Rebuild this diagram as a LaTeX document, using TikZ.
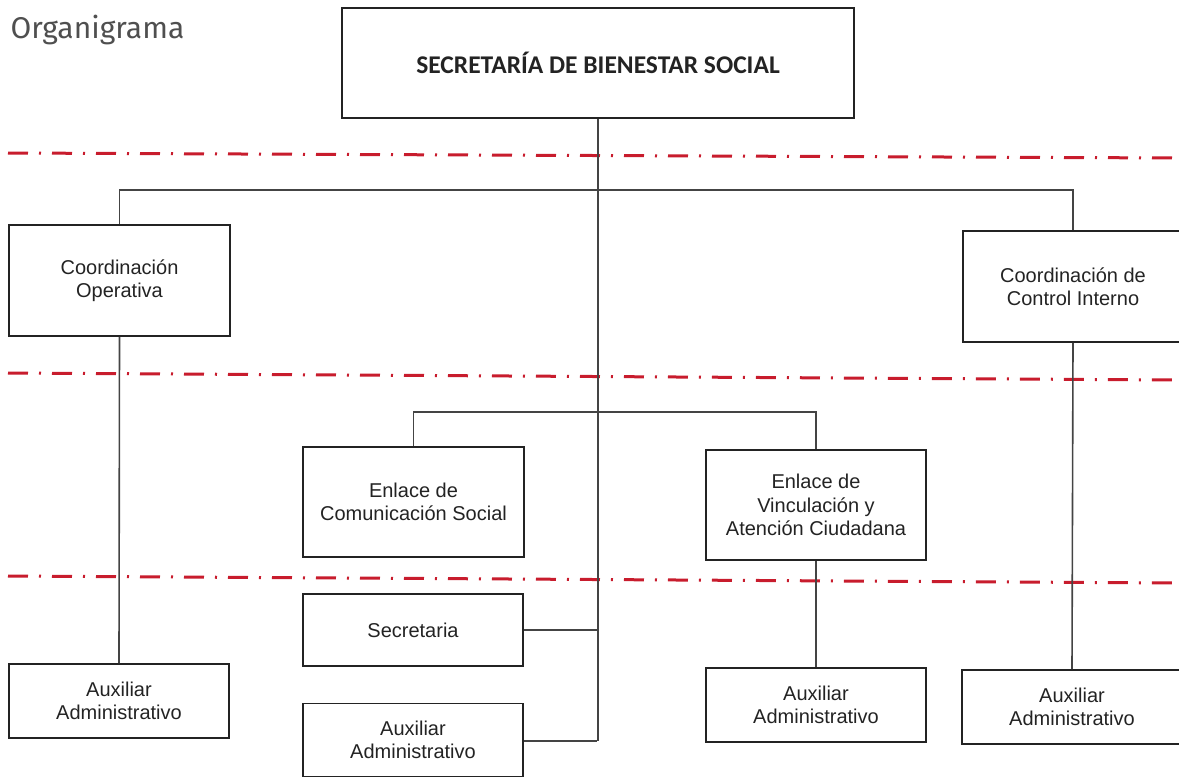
\documentclass[tikz,border=0pt]{standalone}
\usepackage{fontspec}
\setmainfont{Liberation Sans}
\newfontfamily\headfont{Carlito}
\newfontfamily\titlefont{Fira Sans}
\definecolor{ink}{RGB}{35,35,35}
\definecolor{guide}{RGB}{200,28,45}

\begin{document}
\begin{tikzpicture}[x=1pt, y=-1pt,
	box/.style={draw=ink, line width=1.6pt, align=center, inner sep=0pt, text=ink,
		minimum width=220pt, font=\fontsize{20}{23.5}\selectfont},
	link/.style={draw=ink!85, line width=1.6pt},
	guideline/.style={draw=guide, line width=3pt, dash pattern=on 20pt off 11pt on 2pt off 11pt}]
	\useasboundingbox (0,0) rectangle (1179,777);

	\node[anchor=base west, text=ink!80, font=\titlefont\fontsize{30}{36}\selectfont] (title) at (7,38) {Organigrama};

	% levels
	\draw[guideline] (8,153) -- (1179,158);
	\draw[guideline] (8,373) -- (1179,380);
	\draw[guideline] (8,576) -- (1179,583);

	\node[box, minimum width=512pt, minimum height=110pt, font=\headfont\bfseries\fontsize{25.5}{30}\selectfont] (sbs) at (598,63) {SECRETARÍA DE BIENESTAR SOCIAL};

	\node[box, minimum width=221pt, minimum height=111pt] (coorop) at (119.5,280.5) {Coordinación\\Operativa};
	\node[box, minimum height=111pt] (coorci) at (1073,286.5) {Coordinación de\\Control Interno};

	\node[box, minimum width=221pt, minimum height=110pt] (enlcom) at (413.5,502) {Enlace de\\Comunicación Social};
	\node[box, minimum height=110pt] (enlvin) at (816,505) {Enlace de\\Vinculación y\\Atención Ciudadana};

	\node[box, minimum height=72pt] (secr) at (413,630) {Secretaria};
	\node[box, minimum height=73pt] (auxsec) at (413,740) {Auxiliar\\Administrativo};

	\node[box, minimum height=74pt] (auxop) at (119,701) {Auxiliar\\Administrativo};
	\node[box, minimum height=74pt] (auxvin) at (816,705) {Auxiliar\\Administrativo};
	\node[box, minimum height=74pt] (auxci) at (1072,707) {Auxiliar\\Administrativo};

	\coordinate (spine) at (597,741);
	\coordinate (bar1) at (597,190);
	\coordinate (bar2) at (597,412);

	\draw[link] (sbs.south) -- (sbs.south |- spine);
	\draw[link] (coorop.north) |- (bar1) -| (coorci.north);
	\draw[link] (enlcom.north) |- (bar2) -| (enlvin.north);
	\draw[link] (secr.east) -- (secr.east -| spine);
	\draw[link] (auxsec.east |- spine) -- (spine);

	\draw[link] (coorop.south) -- (auxop.north);
	\draw[link] (coorci.south) -- (auxci.north);
	\draw[link] (enlvin.south) -- (auxvin.north);

\end{tikzpicture}
\end{document}
